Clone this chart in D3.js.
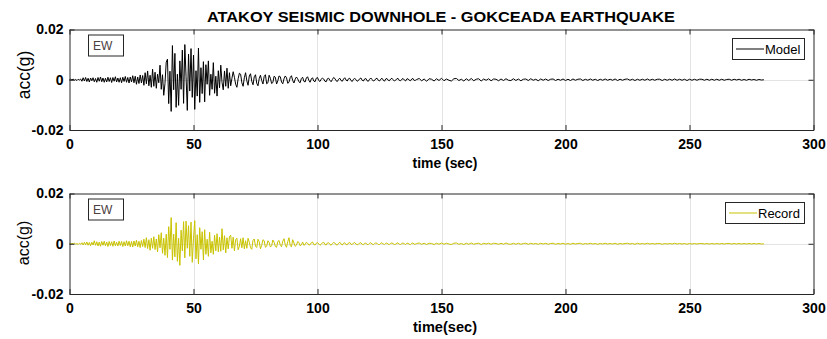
<!DOCTYPE html>
<html>
<head>
<meta charset="utf-8">
<script src="https://cdn.jsdelivr.net/npm/d3@7"></script>
<style>
  body { margin: 0; background: #fff; }
  svg { display: block; font-family: "Liberation Sans", Arial, Helvetica, sans-serif; }
</style>
</head>
<body>
<div class="seismo"></div>
<script>
// acceleration in milli-g; dense part sampled every 0.5 s (0..140 s), tail every 1 s (141..280 s)
const modelHead = [
  0, 0.2, -0.1, 0.3, -0.2, 0.1, -0.3, 0.2, -0.1, 0.3,
  -0.6, 0.8, -0.5, 0.9, -0.7, 0.6, -0.9, 0.7, -0.4, 0.8,
  -0.8, 0.5, -1.0, 0.9, -0.6, 1.1, -0.8, 0.7, -1.0, 0.6,
  -0.9, 1.0, -0.7, 0.8, -1.1, 0.9, -0.6, 1.2, -0.9, 0.7,
  -1.0, 0.8, -1.2, 1.0, -0.7, 1.3, -1.0, 0.9, -1.3, 1.1,
  -0.9, 1.6, -1.2, 1.4, -1.8, 1.1, -1.5, 1.9, -1.3, 1.7,
  -2.2, 2.8, -1.6, 3.5, -2.4, 1.8, -3.0, 4.2, -2.6, 3.0,
  -3.4, 2.2, -1.2, 5.8, -3.8, 2.0, -6.2, -1.5, 7.0, 8.2,
  -9.5, 3.4, -12.6, 13.6, -4.0, 10.5, -11.0, 2.2, -10.2, 7.5,
  -3.8, 11.8, -9.4, 14.0, 1.2, -12.2, 10.2, -4.5, 12.4, -7.0,
  9.8, -11.8, 3.6, -6.5, 12.6, -9.0, 4.8, -5.5, 7.2, -8.8,
  6.0, -1.8, 7.5, -6.2, 2.2, -3.8, 6.8, -5.4, 1.4, -6.5,
  3.6, -3.2, 5.8, -1.0, -4.0, 3.5, -2.6, 4.6, -3.4, 2.8,
  -2.4, 0.6, 3.2, 1.0, -1.8, -3.0, 0.4, 2.6, 2.2, -1.2,
  -2.6, 0.8, 2.8, -0.4, -2.2, 1.5, 2.4, -0.6, -2.0, 1.2,
  2.0, -1.4, -2.4, 0.5, 1.8, -0.3, -1.7, 1.3, 2.0, -1.6,
  -1.2, 1.8, 0.6, -1.5, -1.1, 1.4, 1.0, -1.7, -0.4, 1.5,
  1.2, -0.9, -1.6, 0.4, 1.5, 0.8, -1.4, -1.0, 0.9, 1.6,
  -0.3, -1.3, 0.2, 1.1, 0.4, -0.8, -1.2, 0.5, 1.0, -0.6,
  -0.9, 0.7, 1.2, -0.2, -1.0, 0.3, 0.8, -0.5, -0.8, 0.6,
  0.9, -0.3, -0.7, 0.2, 0.7, 0.3, -0.6, -0.8, 0.4, 0.6,
  -0.2, -0.8, 0.1, 0.9, 0.5, -0.4, -0.7, 0.2, 0.6, -0.3,
  -0.6, 0.3, 0.8, -0.1, -0.5, 0.4, 0.6, -0.3, -0.7, 0.2,
  0.5, 0.1, -0.6, -0.3, 0.4, 0.7, -0.2, -0.5, 0.3, 0.5,
  -0.4, -0.6, 0.2, 0.7, 0.1, -0.5, -0.3, 0.4, 0.6, -0.2,
  -0.5, 0.2, 0.6, -0.1, -0.6, 0.3, 0.5, -0.2, -0.4, 0.3,
  0.6, 0.0, -0.5, -0.2, 0.4, 0.5, -0.3, -0.4, 0.2, 0.5,
  -0.1, -0.5, 0.3, 0.4, -0.2, -0.4, 0.3, 0.5, -0.3, -0.2,
  0.1
];
const modelTail = [
  0.5, -0.4, 0.3, -0.6, 0.4, 0.2, -0.5, 0.4, -0.3, 0.6, -0.4, 0.3, -0.2, -0.5, 0.4, 0.5, -0.3, 0.2, -0.5, 0.4,
  -0.3, 0.5, -0.4, 0.2, 0.4, -0.5, 0.3, -0.2, 0.4, -0.4, 0.3, 0.2, -0.4, 0.3, -0.3, 0.4, -0.2, -0.3, 0.4, -0.3,
  0.3, -0.4, 0.2, 0.3, -0.3, 0.4, -0.2, 0.2, -0.4, 0.3, -0.2, 0.3, -0.3, 0.2, 0.3, -0.3, 0.2, -0.2, 0.3, -0.3,
  0.2, -0.3, 0.3, -0.2, 0.2, 0.3, -0.3, 0.2, -0.2, 0.3, -0.2, 0.2, -0.3, 0.2, -0.2, 0.3, -0.2, 0.2, -0.2, 0.3,
  -0.3, 0.2, -0.2, 0.2, 0.3, -0.2, 0.2, -0.3, 0.2, -0.2, 0.2, -0.2, 0.3, -0.2, 0.2, -0.2, 0.2, 0.2, -0.3, 0.2,
  -0.2, 0.2, -0.2, 0.3, -0.2, 0.2, -0.2, 0.2, -0.3, 0.2, -0.2, 0.2, -0.2, 0.2, 0.2, -0.2, 0.2, -0.2, 0.2, -0.2,
  0.2, -0.2, 0.2, -0.2, 0.1, 0.2, -0.2, 0.2, -0.1, 0.2, -0.2, 0.1, -0.2, 0.2, -0.1, 0.1, -0.2, 0.1, -0.1, 0.0
];
const recordHead = [
  0.1, -0.2, 0.2, -0.1, 0.3, -0.2, 0.1, -0.3, 0.2, -0.2,
  0.4, -0.5, 0.6, -0.4, 0.7, -0.6, 0.5, -0.8, 0.6, -0.5,
  1.2, -0.6, 0.8, -0.9, 0.7, -1.0, 0.9, -0.6, 1.0, -0.8,
  0.7, -1.1, 0.9, -0.7, 0.8, -1.0, 1.1, -0.8, 0.6, -0.9,
  1.0, -0.7, 0.9, -1.1, 0.8, -0.9, 1.2, -0.8, 1.0, -1.2,
  0.9, -1.3, 1.1, -0.9, 1.4, -1.2, 1.0, -1.5, 1.3, -1.1,
  1.8, -1.5, 2.4, -1.9, 1.6, -2.6, 2.2, -1.8, 2.8, -2.3,
  1.9, -3.2, 3.6, -1.6, 4.4, -3.8, 2.2, -4.6, 3.8, -5.5,
  6.8, -2.2, 10.4, -6.5, 3.8, -5.2, 8.4, -7.0, 2.2, -8.6,
  5.4, -2.8, 8.8, -5.6, 9.0, -1.8, 7.2, -5.0, 8.6, -7.4,
  2.2, 9.2, -6.0, 3.6, -8.0, 6.4, -2.2, 4.8, -6.4, 5.6,
  -4.2, 1.8, -5.0, 4.6, -3.6, 1.0, -4.2, 3.4, -2.8, 4.0,
  -3.2, 2.6, -3.0, 6.0, -2.4, 3.2, -3.6, 2.4, -2.0, 2.8,
  3.4, -1.8, 2.6, -2.8, 1.6, 2.2, -2.4, -1.0, 2.0, -1.6,
  2.4, -2.0, 1.2, -1.8, 2.2, 0.6, -1.6, -2.2, 1.4, 1.9,
  -1.0, -1.5, 1.8, 0.8, -2.0, -0.6, 1.6, 1.2, -1.4, -1.0,
  1.2, 0.5, -1.3, -0.8, 1.5, 0.6, -1.1, -1.4, 0.9, 1.3,
  -0.6, -1.2, 1.0, 2.0, -0.4, -1.4, 0.8, 2.4, -0.8, -1.2,
  1.6, 0.3, -1.0, -0.6, 0.9, 0.5, -0.8, -0.4, 0.7, -0.6,
  -0.3, 0.6, 0.2, -0.5, -0.4, 0.4, 0.7, -0.3, -0.5, 0.2,
  0.5, -0.1, -0.6, -0.2, 0.4, 0.6, -0.3, -0.5, 0.3, 0.4,
  -0.2, -0.6, 0.1, 0.5, 0.3, -0.4, -0.5, 0.2, 0.6, -0.1,
  -0.5, 0.2, 0.4, -0.3, -0.4, 0.3, 0.5, -0.2, -0.3, 0.3,
  0.5, -0.1, -0.4, -0.2, 0.3, 0.4, -0.2, -0.4, 0.2, 0.3,
  -0.3, -0.3, 0.2, 0.4, -0.1, -0.4, 0.1, 0.3, 0.2, -0.3,
  -0.3, 0.2, 0.4, -0.1, -0.3, 0.2, 0.3, -0.2, -0.3, 0.2,
  0.3, 0.0, -0.3, -0.2, 0.3, 0.3, -0.2, -0.3, 0.1, 0.3,
  0.0, -0.3, 0.2, 0.2, -0.2, -0.3, 0.2, 0.3, -0.2, -0.1,
  0.1
];
const recordTail = [
  0.3, -0.2, 0.2, -0.3, 0.2, 0.1, -0.3, 0.2, -0.2, 0.3, -0.2, 0.2, -0.1, -0.3, 0.2, 0.3, -0.2, 0.1, -0.3, 0.2,
  -0.2, 0.3, -0.2, 0.1, 0.2, -0.3, 0.2, -0.1, 0.2, -0.2, 0.2, 0.1, -0.2, 0.2, -0.2, 0.3, -0.1, -0.2, 0.2, -0.2,
  0.2, -0.2, 0.1, 0.2, -0.2, 0.2, -0.1, 0.1, -0.2, 0.2, -0.1, 0.2, -0.2, 0.1, 0.2, -0.2, 0.1, -0.1, 0.2, -0.2,
  0.1, -0.2, 0.2, -0.1, 0.1, 0.2, -0.2, 0.1, -0.1, 0.2, -0.1, 0.1, -0.2, 0.1, -0.1, 0.2, -0.1, 0.1, -0.1, 0.2,
  -0.2, 0.1, -0.1, 0.1, 0.2, -0.1, 0.1, -0.2, 0.2, -0.1, 0.1, -0.1, 0.2, -0.1, 0.1, -0.1, 0.1, 0.1, -0.2, 0.1,
  -0.1, 0.1, -0.1, 0.2, -0.1, 0.1, -0.1, 0.1, -0.2, 0.1, -0.1, 0.1, -0.1, 0.1, 0.1, -0.1, 0.1, -0.1, 0.1, -0.1,
  0.1, -0.1, 0.1, -0.1, 0.1, 0.1, -0.1, 0.1, -0.1, 0.1, -0.1, 0.1, -0.1, 0.1, -0.1, 0.1, -0.1, 0.1, -0.1, 0.0
];
const xTicks = [0, 50, 100, 150, 200, 250, 300];
const yTicks = [-0.02, 0, 0.02];
const yTickLabels = ['-0.02', '0', '0.02'];

function toSeries(head, tail) {
  const pts = head.map(function (v, i) { return { t: i * 0.5, a: v / 1000 }; });
  tail.forEach(function (v, i) { pts.push({ t: 141 + i, a: v / 1000 }); });
  return pts;
}

const svg = d3.select('.seismo').append('svg').attr('width', 827).attr('height', 339);

svg.append('text')
  .attr('x', 441).attr('y', 22)
  .attr('text-anchor', 'middle')
  .attr('font-size', 15.5).attr('font-weight', 'bold')
  .attr('textLength', 468).attr('lengthAdjust', 'spacingAndGlyphs')
  .attr('fill', '#000')
  .text('ATAKOY SEISMIC DOWNHOLE - GOKCEADA EARTHQUAKE');

function drawPanel(opts) {
  const left = 69.5, right = 813.5;
  const top = opts.top, bottom = opts.bottom;
  const x = d3.scaleLinear().domain([0, 300]).range([left, right]);
  const y = d3.scaleLinear().domain([-0.02, 0.02]).range([bottom, top]);
  const g = svg.append('g');

  // grid
  g.selectAll('.vgrid').data(xTicks.slice(1, -1)).enter().append('line')
    .attr('x1', function (d) { return Math.round(x(d)) + 0.5; })
    .attr('x2', function (d) { return Math.round(x(d)) + 0.5; })
    .attr('y1', top).attr('y2', bottom)
    .attr('stroke', '#e3e3e3').attr('stroke-width', 1);
  g.append('line')
    .attr('x1', left).attr('x2', right)
    .attr('y1', Math.round(y(0)) + 0.5).attr('y2', Math.round(y(0)) + 0.5)
    .attr('stroke', '#e3e3e3').attr('stroke-width', 1);

  // signal
  const line = d3.line()
    .x(function (d) { return x(d.t); })
    .y(function (d) { return y(d.a); });
  g.append('path')
    .datum(opts.data)
    .attr('d', line)
    .attr('fill', 'none')
    .attr('stroke', opts.color)
    .attr('stroke-width', 1)
    .attr('stroke-linejoin', 'round');

  // axes with inner ticks, mirrored on top/right
  const bx = d3.axisBottom(x).tickValues(xTicks).tickSizeInner(-5).tickSizeOuter(0).tickFormat(function (d) { return d; });
  const tx = d3.axisTop(x).tickValues(xTicks).tickSizeInner(-5).tickSizeOuter(0).tickFormat('');
  const ly = d3.axisLeft(y).tickValues(yTicks).tickSizeInner(-5).tickSizeOuter(0)
    .tickFormat(function (d, i) { return yTickLabels[i]; });
  const ry = d3.axisRight(y).tickValues(yTicks).tickSizeInner(-5).tickSizeOuter(0).tickFormat('');

  const axes = [
    g.append('g').attr('transform', 'translate(0,' + bottom + ')').call(bx),
    g.append('g').attr('transform', 'translate(0,' + top + ')').call(tx),
    g.append('g').attr('transform', 'translate(' + left + ',0)').call(ly),
    g.append('g').attr('transform', 'translate(' + right + ',0)').call(ry)
  ];
  axes.forEach(function (a) {
    a.select('.domain').attr('stroke', '#262626');
    a.selectAll('.tick line').attr('stroke', '#262626');
    a.selectAll('.tick text')
      .attr('font-size', 14).attr('font-weight', 'bold')
      .attr('font-family', '"Liberation Sans", Arial, sans-serif')
      .attr('fill', '#000');
  });
  axes[0].selectAll('.tick text').attr('dy', '0.71em').attr('y', 9);
  axes[2].selectAll('.tick text').attr('x', -6);

  // labels
  g.append('text')
    .attr('x', 445).attr('y', opts.xLabelY)
    .attr('text-anchor', 'middle')
    .attr('font-size', 15).attr('font-weight', 'bold')
    .attr('textLength', opts.xLabelW).attr('lengthAdjust', 'spacingAndGlyphs')
    .attr('fill', '#000')
    .text(opts.xLabel);
  g.append('text')
    .attr('transform', 'translate(' + opts.yLabelX + ',' + opts.yLabelY + ') rotate(-90)')
    .attr('text-anchor', 'middle')
    .attr('font-size', opts.yLabelSize)
    .attr('fill', '#000')
    .text('acc(g)');

  // "EW" box
  g.append('rect')
    .attr('x', 88.5).attr('y', top + 5.5).attr('width', 35).attr('height', 21)
    .attr('fill', '#fff').attr('stroke', '#262626').attr('stroke-width', 1);
  g.append('text')
    .attr('x', 93).attr('y', top + 20.5)
    .attr('font-size', 12).attr('fill', '#4a4040')
    .text('EW');

  // legend
  const lg = opts.legend;
  g.append('rect')
    .attr('x', lg.x + 0.5).attr('y', top + lg.dy + 0.5).attr('width', lg.w).attr('height', 21)
    .attr('fill', '#fff').attr('stroke', '#262626').attr('stroke-width', 1);
  g.append('line')
    .attr('x1', lg.x + 4).attr('x2', lg.x + 32)
    .attr('y1', top + lg.dy + 11).attr('y2', top + lg.dy + 11)
    .attr('stroke', opts.color).attr('stroke-width', 1);
  g.append('text')
    .attr('x', lg.x + 33).attr('y', top + lg.dy + 16)
    .attr('font-size', 13).attr('fill', '#000')
    .text(opts.name);
}

drawPanel({
  top: 29.5, bottom: 130, data: toSeries(modelHead, modelTail), color: '#000000',
  name: 'Model', legend: { x: 732, dy: 8.5, w: 72 },
  xLabel: 'time (sec)', xLabelY: 168, xLabelW: 65,
  yLabelX: 30, yLabelY: 75, yLabelSize: 17.5
});
drawPanel({
  top: 193.5, bottom: 294, data: toSeries(recordHead, recordTail), color: '#c9c300',
  name: 'Record', legend: { x: 725, dy: 8.5, w: 79 },
  xLabel: 'time(sec)', xLabelY: 332, xLabelW: 64,
  yLabelX: 29, yLabelY: 243, yLabelSize: 16
});
</script>
</body>
</html>
